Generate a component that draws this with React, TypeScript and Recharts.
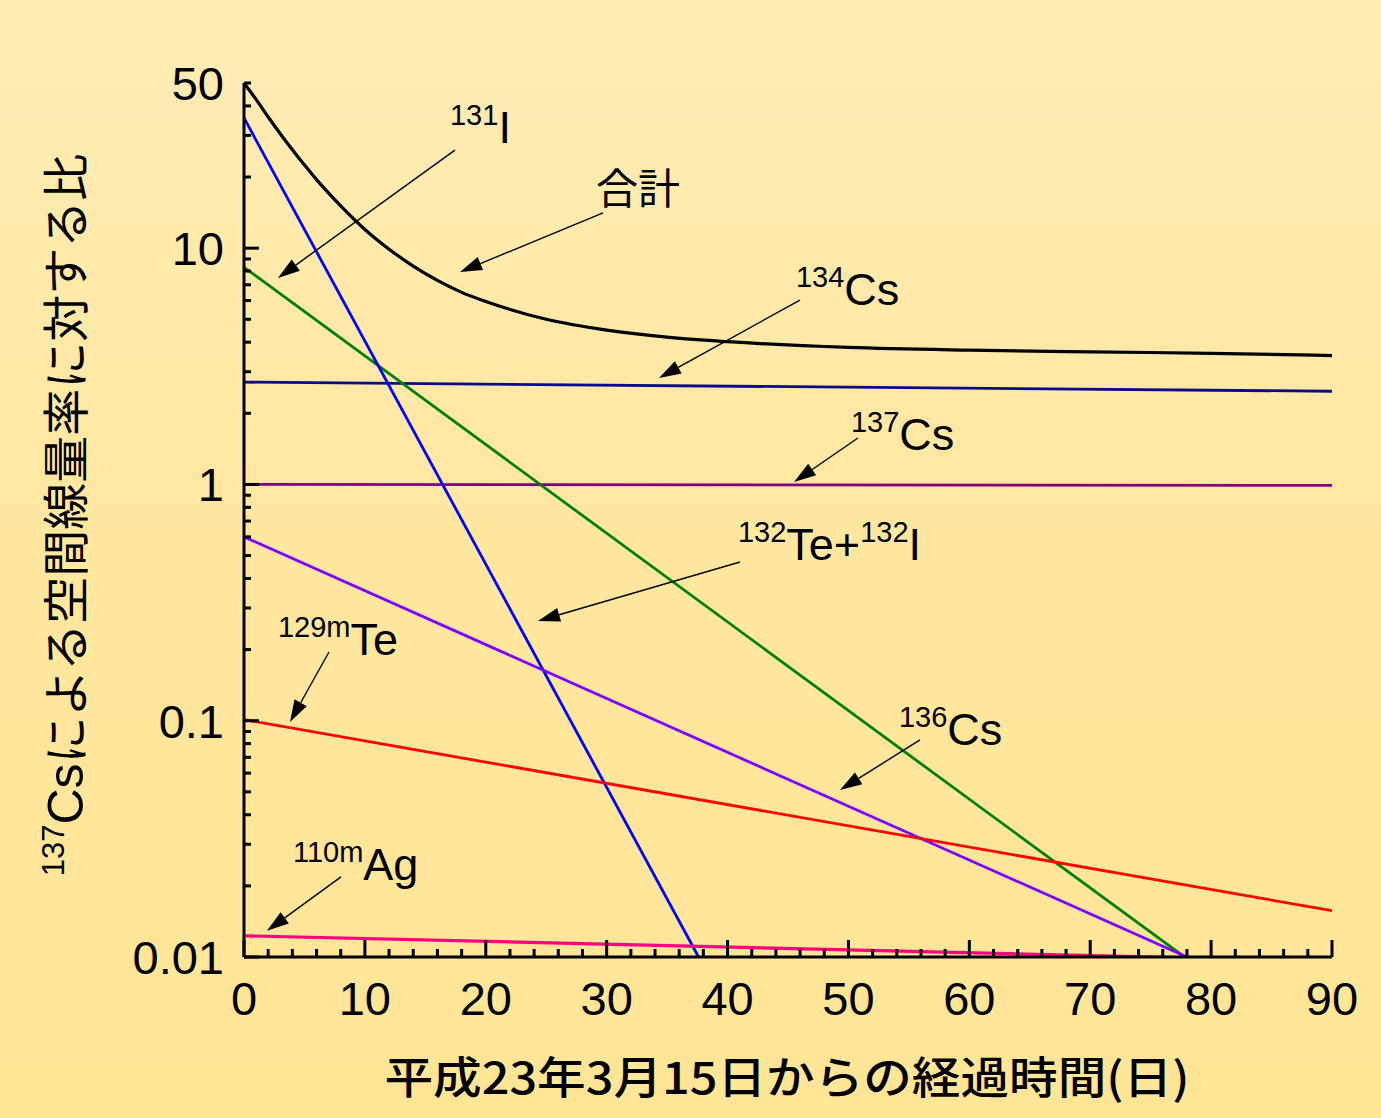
import React from 'react';
import { LineChart, Line, XAxis, YAxis, ReferenceLine, ReferenceDot } from 'recharts';

// ---- data ----
const totalDays = [0, 1, 2, 3, 4, 5, 6, 7, 8, 10, 12, 14, 16, 18, 20, 25, 30, 35, 40, 50, 60, 70, 80, 90];
const totalValues = [50, 42.6, 35.9, 30.5, 26.1, 22.5, 19.5, 17.1, 15.1, 12.0, 9.9, 8.4, 7.3, 6.5, 5.95, 5.0, 4.5, 4.2, 4.02, 3.8, 3.7, 3.64, 3.59, 3.51];

const cs134Days = [0, 90];
const cs134Values = [2.71, 2.48];
const cs137Days = [0, 90];
const cs137Values = [1.0, 0.99];
const i131Days = [0, 77.8];
const i131Values = [8.3, 0.01];
const te132Days = [0, 37.6];
const te132Values = [35.6, 0.01];
const cs136Days = [0, 78.0];
const cs136Values = [0.6, 0.01];
const te129mDays = [0, 90];
const te129mValues = [0.101, 0.0157];
const ag110mDays = [0, 90];
const ag110mValues = [0.0123, 0.0096];

const xTicks = [0, 2, 4, 6, 8, 10, 12, 14, 16, 18, 20, 22, 24, 26, 28, 30, 32, 34, 36, 38, 40, 42, 44, 46, 48, 50, 52, 54, 56, 58, 60, 62, 64, 66, 68, 70, 72, 74, 76, 78, 80, 82, 84, 86, 88, 90];
const xMajor = [0, 10, 20, 30, 40, 50, 60, 70, 80, 90];
const yTicks = [0.01, 0.02, 0.03, 0.04, 0.05, 0.06, 0.07, 0.08, 0.09, 0.1, 0.2, 0.3, 0.4, 0.5, 0.6, 0.7, 0.8, 0.9, 1, 2, 3, 4, 5, 6, 7, 8, 9, 10, 20, 30, 40, 50];
const yMajor = [0.01, 0.1, 1, 10];
const yLabeled = [0.01, 0.1, 1, 10, 50];

// annotation labels: [superscript, main] parts, anchor in data coords
const labelTexts = [
  [['131', 'I']],
  [['', '合計']],
  [['134', 'Cs']],
  [['137', 'Cs']],
  [['132', 'Te+'], ['132', 'I']],
  [['129m', 'Te']],
  [['136', 'Cs']],
  [['110m', 'Ag']],
];
const labelX = [17.04, 29.12, 45.66, 50.21, 40.86, 2.81, 54.18, 4.05];
const labelY = [27.9, 15.4, 5.75, 1.40, 0.479, 0.1898, 0.079, 0.02118];
const arrowFromX = [17.45, 29.7, 45.99, 50.79, 41.03, 7.03, 55.92, 8.02];
const arrowFromY = [26.0, 14.1, 6.03, 1.573, 0.4696, 0.1954, 0.0829, 0.02182];
const arrowToX = [2.81, 17.87, 34.33, 45.5, 24.32, 3.8, 49.3, 1.9];
const arrowToY = [7.48, 7.93, 2.82, 1.024, 0.2644, 0.0988, 0.0509, 0.0129];

const toPts = (d: number[], v: number[]) => d.map((x, i) => ({ x, y: v[i] }));

const series = [
  { name: 'total', data: toPts(totalDays, totalValues), color: '#000000', w: 3.2, type: 'monotone' },
  { name: 'cs134', data: toPts(cs134Days, cs134Values), color: '#0A0A8C', w: 2.8, type: 'linear' },
  { name: 'cs137', data: toPts(cs137Days, cs137Values), color: '#800080', w: 2.8, type: 'linear' },
  { name: 'i131', data: toPts(i131Days, i131Values), color: '#008000', w: 2.8, type: 'linear' },
  { name: 'te132', data: toPts(te132Days, te132Values), color: '#0000FF', w: 2.8, type: 'linear' },
  { name: 'cs136', data: toPts(cs136Days, cs136Values), color: '#8000FF', w: 2.8, type: 'linear' },
  { name: 'te129m', data: toPts(te129mDays, te129mValues), color: '#FF0000', w: 2.8, type: 'linear' },
  { name: 'ag110m', data: toPts(ag110mDays, ag110mValues), color: '#FF0080', w: 3.2, type: 'linear' },
];

const FONT = '"Liberation Sans", Arial, Helvetica, sans-serif';
const CJK = '"Noto Sans CJK JP", "Noto Sans CJK SC", sans-serif';

const XTick = (props: any) => {
  const { x, y, payload } = props;
  const v = payload.value;
  const major = xMajor.includes(v);
  return (
    <g>
      <line x1={x} x2={x} y1={y} y2={y - (major ? 17 : 8)} stroke="#000" strokeWidth={3} />
      {major && (
        <text x={x} y={y + 58} textAnchor="middle" fontSize={47} fontFamily={FONT} fill="#000">
          {v}
        </text>
      )}
    </g>
  );
};

const YTick = (props: any) => {
  const { x, y, payload } = props;
  const v = payload.value;
  const major = yMajor.includes(v);
  const labeled = yLabeled.includes(v);
  return (
    <g>
      <line x1={x} x2={x + (major ? 15 : 7)} y1={y} y2={y} stroke="#000" strokeWidth={3} />
      {labeled && (
        <text x={x - 20} y={y + 17} textAnchor="end" fontSize={47} fontFamily={FONT} fill="#000">
          {String(v)}
        </text>
      )}
    </g>
  );
};

const Arrow = (props: any) => {
  const { x1, y1, x2, y2 } = props;
  const dx = x2 - x1;
  const dy = y2 - y1;
  const len = Math.sqrt(dx * dx + dy * dy) || 1;
  const ux = dx / len;
  const uy = dy / len;
  const hl = 22;
  const hw = 7;
  const bx = x2 - ux * hl;
  const by = y2 - uy * hl;
  const px = -uy * hw;
  const py = ux * hw;
  return (
    <g>
      <line x1={x1} y1={y1} x2={bx} y2={by} stroke="#000" strokeWidth={1.4} />
      <polygon points={`${x2},${y2} ${bx + px},${by + py} ${bx - px},${by - py}`} fill="#000" />
    </g>
  );
};

const makeLabel = (parts: string[][]) => (props: any) => {
  const { cx, cy } = props;
  const spans: any[] = [];
  parts.forEach(([sup, main], i) => {
    if (sup) {
      spans.push(
        <tspan key={`s${i}`} fontSize={29} dy={-18}>
          {sup}
        </tspan>
      );
    }
    const isCjk = /[\u3000-\u9fff]/.test(main);
    spans.push(
      <tspan key={`m${i}`} fontSize={isCjk ? 42 : 45} dy={sup ? 18 : 0} fontFamily={isCjk ? CJK : FONT}>
        {main}
      </tspan>
    );
  });
  return (
    <text x={cx} y={cy} fontFamily={FONT} fill="#000">
      {spans}
    </text>
  );
};

const YTitle = (props: any) => {
  const vb = props.viewBox || { x: 144, y: 83, width: 100, height: 874 };
  const cy = vb.y + vb.height / 2 - 5;
  const bx = 83;
  return (
    <text transform={`translate(${bx},${cy}) rotate(-90)`} textAnchor="middle" fill="#000" fontFamily={CJK}>
      <tspan fontFamily={FONT} fontSize={31} dy={-19}>137</tspan>
      <tspan fontFamily={FONT} fontSize={50} dy={19}>Cs</tspan>
      <tspan fontSize={47}>による空間線量率に対する比</tspan>
    </text>
  );
};

const XTitle = (props: any) => {
  const vb = props.viewBox || { x: 244, y: 957, width: 1088, height: 60 };
  const cx = vb.x + vb.width / 2;
  return (
    <text
      x={cx - 1}
      y={1094}
      textAnchor="middle"
      fill="#000"
      fontFamily={CJK}
      fontSize={44}
      fontWeight={500}
      textLength={805}
      lengthAdjust="spacingAndGlyphs"
    >
      平成23年3月15日からの経過時間(日)
    </text>
  );
};

export default function App() {
  return (
    <div
      style={{
        position: 'absolute',
        left: 0,
        top: 0,
        width: 1381,
        height: 1118,
        background: 'linear-gradient(180deg, #FFECB6 0%, #FFE79F 50%, #FFE596 100%)',
        overflow: 'hidden',
      }}
    >
      <LineChart width={1381} height={1118} margin={{ top: 83, right: 49, bottom: 101, left: 144 }}>
        <XAxis
          type="number"
          dataKey="x"
          domain={[0, 90]}
          ticks={xTicks}
          interval={0}
          tickSize={0}
          tickMargin={0}
          tickLine={false}
          tick={<XTick />}
          height={60}
          axisLine={{ stroke: '#000', strokeWidth: 3 }}
          allowDataOverflow
          label={{ content: <XTitle /> }}
        />
        <YAxis
          type="number"
          dataKey="y"
          scale="log"
          domain={[0.01, 50]}
          ticks={yTicks}
          interval={0}
          tickSize={0}
          tickMargin={0}
          tickLine={false}
          tick={<YTick />}
          width={100}
          axisLine={{ stroke: '#000', strokeWidth: 3 }}
          allowDataOverflow
          label={{ content: <YTitle /> }}
        />
        {series.map((s) => (
          <Line
            key={s.name}
            data={s.data}
            dataKey="y"
            type={s.type as any}
            stroke={s.color}
            strokeWidth={s.w}
            dot={false}
            activeDot={false}
            isAnimationActive={false}
          />
        ))}
        {labelTexts.map((parts, i) => (
          <ReferenceLine
            key={`a${i}`}
            segment={[
              { x: arrowFromX[i], y: arrowFromY[i] },
              { x: arrowToX[i], y: arrowToY[i] },
            ]}
            stroke="#000"
            shape={(p: any) => <Arrow {...p} />}
          />
        ))}
        {labelTexts.map((parts, i) => (
          <ReferenceDot
            key={`l${i}`}
            x={labelX[i]}
            y={labelY[i]}
            r={0}
            shape={makeLabel(parts)}
          />
        ))}
      </LineChart>
    </div>
  );
}
